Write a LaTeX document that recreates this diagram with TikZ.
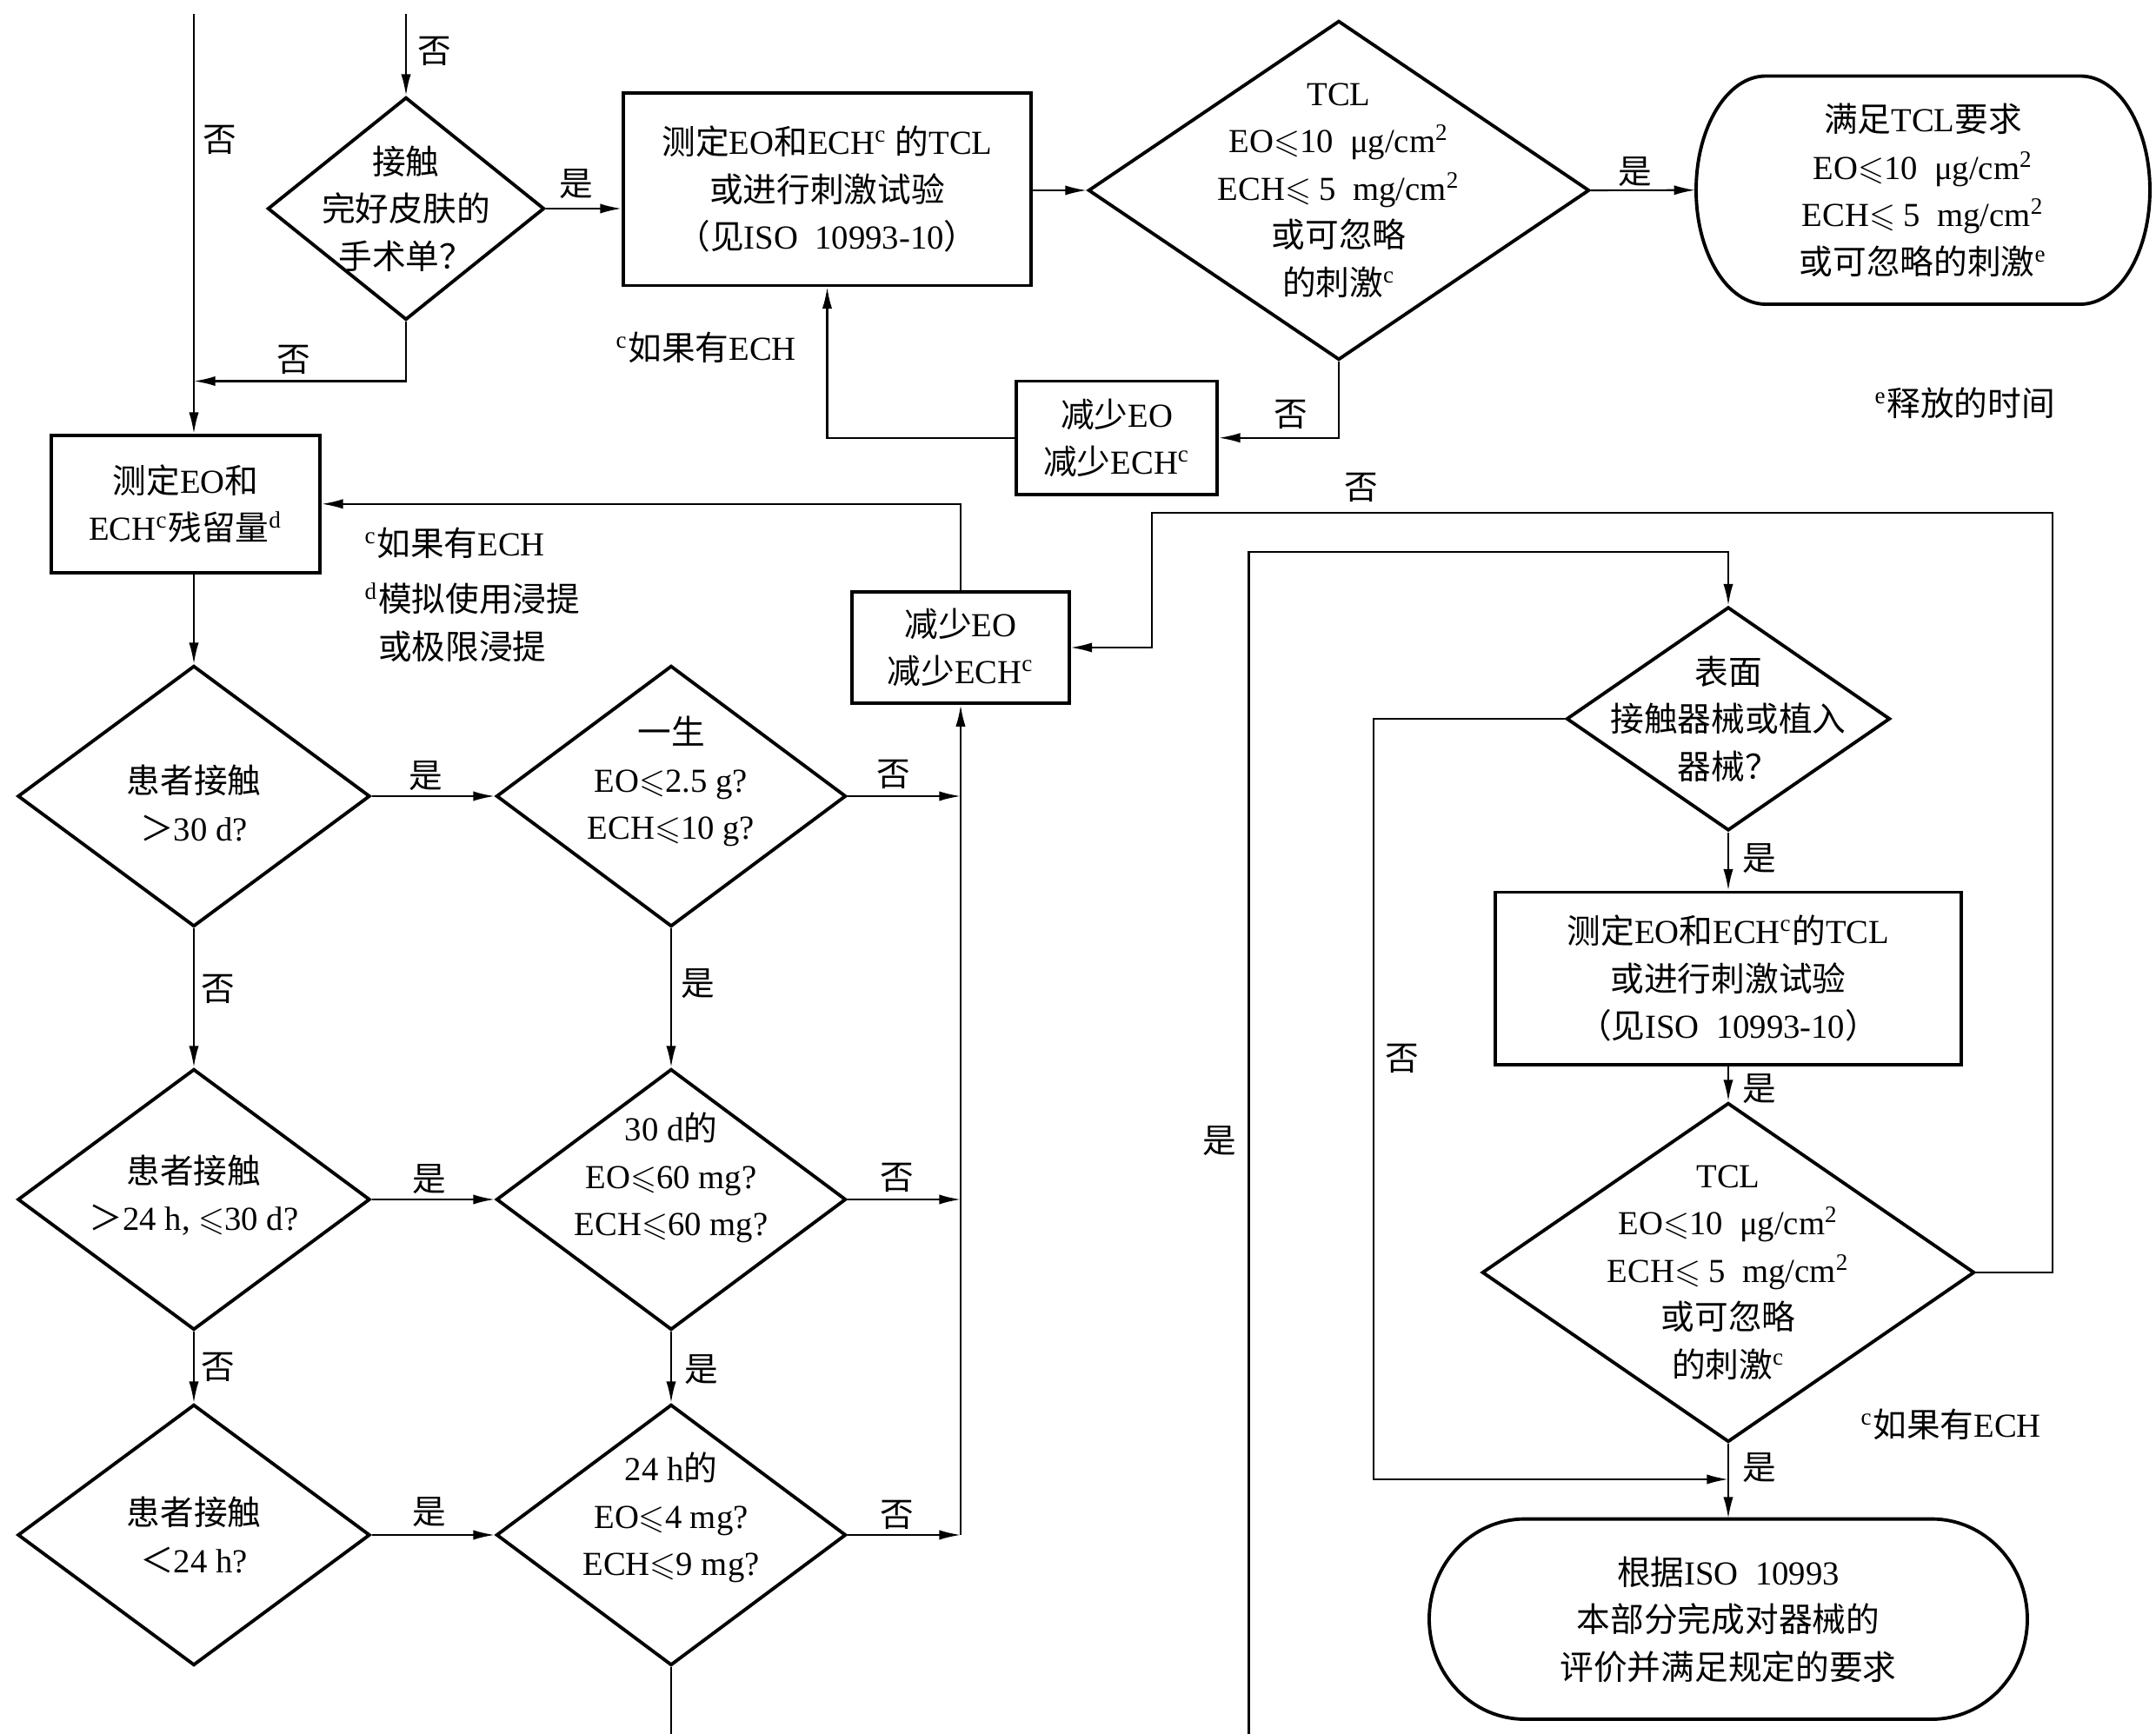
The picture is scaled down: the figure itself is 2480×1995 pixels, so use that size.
\documentclass[tikz,border=0pt]{standalone}
\usepackage{amssymb}
\usepackage{fontspec}
\setmainfont{Liberation Serif}
\newfontfamily\cjk{Noto Sans CJK SC}
\usetikzlibrary{shapes.geometric,arrows.meta}
\newcommand\zh[1]{{\cjk #1}}
\newcommand\sps[1]{\textsuperscript{\rmfamily #1}}
\newcommand\mle{\ensuremath{\leqslant}}
\newcommand\fs{\fontsize{11}{15.5}\selectfont}
\newcommand\mystadium[5]{%
  \pgfmathsetmacro\stL{#1}%
  \pgfmathsetmacro\stT{#2}%
  \pgfmathsetmacro\stR{#3}%
  \pgfmathsetmacro\stB{#4}%
  \pgfmathsetmacro\stX{#5}%
  \pgfmathsetmacro\stY{(\stB-\stT)/2}%
  \pgfmathsetmacro\stC{(\stB+\stT)/2}%
  \pgfmathsetmacro\stKX{0.5523*\stX}%
  \pgfmathsetmacro\stKY{0.5523*\stY}%
  \draw[shp] ({\stL+\stX},\stT) -- ({\stR-\stX},\stT)
    .. controls ({\stR-\stX+\stKX},\stT) and (\stR,{\stC-\stKY}) .. (\stR,\stC)
    .. controls (\stR,{\stC+\stKY}) and ({\stR-\stX+\stKX},\stB) .. ({\stR-\stX},\stB)
    -- ({\stL+\stX},\stB)
    .. controls ({\stL+\stX-\stKX},\stB) and (\stL,{\stC+\stKY}) .. (\stL,\stC)
    .. controls (\stL,{\stC-\stKY}) and ({\stL+\stX-\stKX},\stT) .. cycle;%
}
\tikzset{
  shp/.style={draw, line width=1.1pt, line join=miter},
  dia/.style={shp, shape=diamond, inner sep=0pt, aspect=1},
  box/.style={shp, rectangle, inner sep=2pt, align=center, font=\fs},
  term/.style={rectangle, inner sep=0pt, align=center, font=\fs},
  txt/.style={align=center, font=\fs, inner sep=0pt},
  lbl/.style={font=\fs\cjk, inner sep=0pt},
  conn/.style={line width=0.6pt},
  arr/.style={conn, -{Latex[length=7pt,width=3.2pt]}},
  note/.style={anchor=west, align=left, font=\fs, inner sep=0pt}
}
\begin{document}
\begin{tikzpicture}[x=0.01cm,y=-0.01cm]
\fill[white] (0,0) rectangle (2480,1995);
\useasboundingbox (0,0) rectangle (2480,1995);

% ---------- top row ----------
\node[dia, minimum width=3.18cm, minimum height=2.56cm] (D1) at (467,240) {};
\node[txt] (D1t) at (D1) {\zh{接触}\\\zh{完好皮肤的}\\\zh{手术单？}};

\node[box, minimum width=4.69cm, minimum height=2.215cm] (B1) at (951.5,217.75)
  {\zh{测定}EO\zh{和}ECH\sps{c}\ \zh{的}TCL\\\zh{或进行刺激试验}\\\zh{（见}ISO\enspace 10993-10\zh{）}};

\node[dia, minimum width=5.76cm, minimum height=3.9cm] (D2) at (1540,219) {};
\node[txt] (D2t) at (D2) {TCL\\EO\mle10\enspace μg/cm\sps{2}\\ECH\mle\ 5\enspace mg/cm\sps{2}\\\zh{或可忽略}\\\zh{的刺激}\sps{c}};

\node[term, minimum width=5.22cm, minimum height=2.625cm] (T1) at (2212,218.75)
  {\zh{满足}TCL\zh{要求}\\EO\mle10\enspace μg/cm\sps{2}\\ECH\mle\ 5\enspace mg/cm\sps{2}\\\zh{或可忽略的刺激}\sps{e}};
\mystadium{1951}{87.5}{2473}{350}{80}

\node[box, minimum width=2.31cm, minimum height=1.305cm] (B2) at (1284.5,503.75)
  {\zh{减少}EO\\\zh{减少}ECH\sps{c}};

% ---------- left column ----------
\node[box, minimum width=3.09cm, minimum height=1.576cm] (B3) at (213.5,579.8)
  {\zh{测定}EO\zh{和}\\ECH\sps{c}\zh{残留量}\sps{d}};
\node[box, minimum width=2.49cm, minimum height=1.285cm] (B4) at (1105,745)
  {\zh{减少}EO\\\zh{减少}ECH\sps{c}};

\node[dia, minimum width=4.05cm, minimum height=3cm] (D3) at (223,916) {};
\node[txt] (D3t) at ([yshift=-0.08cm]D3.center) {\zh{患者接触}\\\zh{＞}30 d?};
\node[dia, minimum width=4.02cm, minimum height=3cm] (D4) at (772,916) {};
\node[txt] (D4t) at ([yshift=0.17cm]D4.center) {\zh{一生}\\EO\mle2.5 g?\\ECH\mle10 g?};
\node[dia, minimum width=4.05cm, minimum height=3cm] (D5) at (223,1380) {};
\node[txt] (D5t) at ([yshift=0.05cm]D5.center) {\zh{患者接触}\\\zh{＞}24 h, \mle30 d?};
\node[dia, minimum width=4.02cm, minimum height=3cm] (D6) at (772,1380) {};
\node[txt] (D6t) at ([yshift=0.25cm]D6.center) {30 d\zh{的}\\EO\mle60 mg?\\ECH\mle60 mg?};
\node[dia, minimum width=4.05cm, minimum height=3cm] (D7) at (223,1766) {};
\node[txt] (D7t) at (D7) {\zh{患者接触}\\\zh{＜}24 h?};
\node[dia, minimum width=4.02cm, minimum height=3cm] (D8) at (772,1766) {};
\node[txt] (D8t) at ([yshift=0.2cm]D8.center) {24 h\zh{的}\\EO\mle4 mg?\\ECH\mle9 mg?};

% ---------- right column ----------
\node[dia, minimum width=3.72cm, minimum height=2.57cm] (D10) at (1988,827) {};
\node[txt] (D10t) at (D10) {\zh{表面}\\\zh{接触器械或植入}\\\zh{器械？}};
\node[box, minimum width=5.365cm, minimum height=1.985cm] (B5) at (1988,1125.75)
  {\zh{测定}EO\zh{和}ECH\sps{c}\zh{的}TCL\\\zh{或进行刺激试验}\\\zh{（见}ISO\enspace 10993-10\zh{）}};
\node[dia, minimum width=5.66cm, minimum height=3.9cm] (D9) at (1988,1464) {};
\node[txt] (D9t) at (D9) {TCL\\EO\mle10\enspace μg/cm\sps{2}\\ECH\mle\ 5\enspace mg/cm\sps{2}\\\zh{或可忽略}\\\zh{的刺激}\sps{c}};
\node[term, minimum width=6.885cm, minimum height=2.304cm] (T2) at (1988,1863)
  {\zh{根据}ISO\enspace 10993\\\zh{本部分完成对器械的}\\\zh{评价并满足规定的要求}};
\mystadium{1644}{1747.6}{2332}{1978}{110}

% ---------- notes ----------
\node[note] (n1) at (708,400) {\sps{c}\zh{如果有}ECH};
\node[note] (n2) at (2156,464) {\sps{e}\zh{释放的时间}};
\node[note] (n3) at (419,625) {\sps{c}\zh{如果有}ECH};
\node[note] (n4) at (419,716) {\sps{d}\zh{模拟使用浸提}\\\phantom{\sps{d}}\zh{或极限浸提}};
\node[note] (n5) at (2140,1639) {\sps{c}\zh{如果有}ECH};

% ---------- free ends and corners ----------
\coordinate (in1) at (223,16);
\coordinate (in2) at (467,16);
\coordinate (out1) at (772,1995);
\coordinate (in3) at (1436.5,1995);
\coordinate (c21) at (1436.5,635);
\coordinate (c4) at (467,438.5);
\coordinate (c25) at (1580,1702);
\coordinate (c26a) at (2361,590);
\coordinate (c26b) at (1325,590);

% ---------- connectors ----------
\draw[arr] (in1) -- (in1 |- B3.north);
\draw[arr] (in2) -- (D1.north);
\draw[arr] (D1.east) -- (D1.east -| B1.west);
\draw[arr] (D1.south) -- (c4) -- (c4 -| in1);
\draw[arr] (B1.east |- D2.west) -- (D2.west);
\draw[arr] (D2.east) -- (T1.west);
\draw[arr] (D2.south) |- (B2.east);
\draw[arr] (B2.west) -| (B1.south);
\draw[arr] (B4.north) |- (B3.east);
\draw[arr] (D3.north |- B3.south) -- (D3.north);
\draw[arr] (D3.east) -- (D4.west);
\draw[arr] (D4.east) -- (D4.east -| B4.south);
\draw[arr] (D5.east) -- (D6.west);
\draw[arr] (D6.east) -- (D6.east -| B4.south);
\draw[arr] (D7.east) -- (D8.west);
\draw[arr] (D8.east) -- (D8.east -| B4.south);
\draw[arr] (B4.south |- D8.east) -- (B4.south);
\draw[arr] (D3.south) -- (D5.north);
\draw[arr] (D4.south) -- (D6.north);
\draw[arr] (D5.south) -- (D7.north);
\draw[arr] (D6.south) -- (D8.north);
\draw[conn] (D8.south) -- (out1);
\draw[arr] (in3) -- (c21) -- (c21 -| D10.north) -- (D10.north);
\draw[arr] (D10.south) -- (B5.north);
\draw[arr] (B5.south) -- (D9.north);
\draw[arr] (D9.south) -- (T2.north);
\draw[arr] (D10.west) -| (c25) -- (c25 -| T2.north);
\draw[arr] (D9.east) -| (c26a) -- (c26b) |- (B4.east);

% ---------- yes / no labels ----------
\node[lbl] (l1) at (253,161) {否};
\node[lbl] (l2) at (500,59) {否};
\node[lbl] (l3) at (663,212) {是};
\node[lbl] (l4) at (338,414) {否};
\node[lbl] (l5) at (1881,198) {是};
\node[lbl] (l6) at (1485,477) {否};
\node[lbl] (l7) at (1566,561) {否};
\node[lbl] (l8) at (490,893) {是};
\node[lbl] (l9) at (1028,891) {否};
\node[lbl] (l10) at (251,1138) {否};
\node[lbl] (l11) at (803,1132) {是};
\node[lbl] (l12) at (494,1357) {是};
\node[lbl] (l13) at (1032,1355) {否};
\node[lbl] (l14) at (251,1573) {否};
\node[lbl] (l15) at (807,1576) {是};
\node[lbl] (l16) at (494,1740) {是};
\node[lbl] (l17) at (1032,1743) {否};
\node[lbl] (l18) at (1403,1313) {是};
\node[lbl] (l19) at (2024,988) {是};
\node[lbl] (l20) at (2024,1253) {是};
\node[lbl] (l21) at (1613,1218) {否};
\node[lbl] (l22) at (2024,1689) {是};
\end{tikzpicture}
\end{document}
